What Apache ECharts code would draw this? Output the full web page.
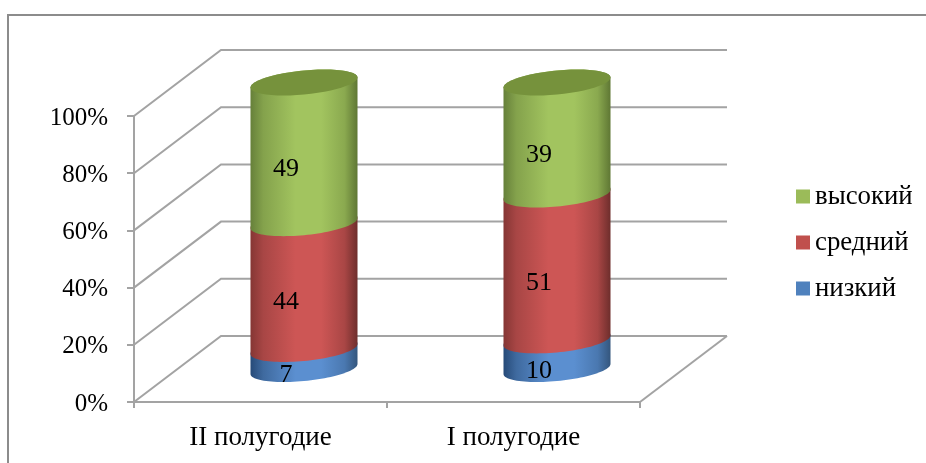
<!DOCTYPE html>
<html><head><meta charset="utf-8">
<style>html,body{margin:0;padding:0;background:#fff}#c{width:926px;height:463px}</style>
<script src="https://cdn.jsdelivr.net/npm/echarts@6/dist/echarts.min.js"></script>
</head><body><div id="c"></div>
<script>
const categories = ['II полугодие', 'I полугодие'];
const valueTicks = [0, 20, 40, 60, 80, 100];
const nizkiy = [7, 10];
const sredniy = [44, 51];
const vysokiy = [49, 39];
const FONT = '"Liberation Serif", serif';
const DEPTH_X = 87, DEPTH_Y = -66, WALL = '#a3a3a3';

function ellipsePts(cx, cy, a, from, to) {
  const b = 12, k = 5, pts = [];
  for (let i = 0; i <= 48; i++) {
    const t = from + (to - from) * i / 48;
    pts.push([cx + a * Math.cos(t), cy + b * Math.sin(t) - k * Math.cos(t)]);
  }
  return pts;
}
function shade(edgeL, midL, base, midR, edgeR) {
  return { type: 'linear', x: 0, y: 0, x2: 1, y2: 0, colorStops: [
    { offset: 0, color: edgeL }, { offset: 0.12, color: midL }, { offset: 0.42, color: base },
    { offset: 0.66, color: base }, { offset: 0.88, color: midR }, { offset: 1, color: edgeR } ] };
}
function cylinderSeries(name, values, below, legendColor, fill, cap) {
  return {
    name, type: 'custom', coordinateSystem: 'cartesian2d', clip: false,
    itemStyle: { color: legendColor },
    encode: { x: 0, y: 2 },
    data: values.map((v, i) => [i, below[i], below[i] + v, v]),
    renderItem(params, api) {
      const i = api.value(0), lo = api.value(1), hi = api.value(2);
      const a = api.size([1, 0])[0] * 0.2115;
      const pLo = api.coord([i, lo]), pHi = api.coord([i, hi]);
      const cx = pLo[0] + DEPTH_X / 2;
      const yLo = pLo[1] + DEPTH_Y / 2, yHi = pHi[1] + DEPTH_Y / 2 - 0.5;
      const outline = ellipsePts(cx, yLo, a, 0, Math.PI)
        .concat(ellipsePts(cx, yHi, a, Math.PI, 2 * Math.PI));
      const kids = [{ type: 'polygon', shape: { points: outline }, style: { fill } }];
      if (cap) kids.push({ type: 'polygon', shape: { points: ellipsePts(cx, yHi, a, 0, 2 * Math.PI) }, style: { fill: cap } });
      const mid = api.coord([i, (lo + hi) / 2]);
      kids.push({ type: 'text', z2: 20, style: { text: String(api.value(3)), x: mid[0] + 25.5, y: mid[1] - 17,
        align: 'center', verticalAlign: 'middle', font: '26px ' + FONT, fill: '#000' } });
      return { type: 'group', children: kids };
    }
  };
}
const zeros = categories.map(() => 0);
const base2 = nizkiy.slice();
const base3 = nizkiy.map((v, i) => v + sredniy[i]);

const chart = echarts.init(document.getElementById('c'), null, { renderer: 'canvas' });
chart.setOption({
  animation: false,
  backgroundColor: '#fff',
  graphic: [{ type: 'rect', shape: { x: 8, y: 15, width: 1200, height: 800 }, silent: true, z: -1,
    style: { fill: 'none', stroke: '#8c8c8c', lineWidth: 2 } }],
  grid: { left: 134, top: 116, width: 506, height: 286 },
  legend: { left: 791, top: 178, orient: 'vertical', itemWidth: 14, itemHeight: 14, itemGap: 19,
    icon: 'rect', selectedMode: false, data: ['высокий', 'средний', 'низкий'],
    textStyle: { fontFamily: FONT, fontSize: 26.8, color: '#000' } },
  xAxis: { type: 'category', data: categories,
    axisLine: { lineStyle: { color: WALL, width: 2 } },
    axisTick: { show: true, length: 6, lineStyle: { color: WALL, width: 2 } },
    axisLabel: { margin: 22, fontFamily: FONT, fontSize: 27, color: '#000' } },
  yAxis: { type: 'value', min: 0, max: 100, interval: 20,
    axisLine: { show: true, lineStyle: { color: WALL, width: 2 } },
    axisTick: { show: true, length: 7, lineStyle: { color: WALL, width: 2 } },
    splitLine: { show: false },
    axisLabel: { margin: 26, formatter: '{v|{value}%}', rich: { v: { fontFamily: FONT, fontSize: 25, color: '#000', padding: [4, 0, 0, 0] } } } },
  series: [
    { type: 'custom', coordinateSystem: 'cartesian2d', clip: false, silent: true,
      encode: { x: 0, y: 1 }, data: valueTicks.map(v => [0, v]),
      renderItem(params, api) {
        const cs = params.coordSys, y = api.coord([0, api.value(1)])[1];
        const bx = cs.x + DEPTH_X, by = y + DEPTH_Y;
        const style = { stroke: WALL, lineWidth: 2, fill: 'none' };
        const kids = [{ type: 'polyline', shape: { points: [[cs.x, y], [bx, by], [cs.x + cs.width + DEPTH_X, by]] }, style }];
        if (api.value(1) === valueTicks[0]) kids.push({ type: 'line',
          shape: { x1: cs.x + cs.width, y1: y, x2: cs.x + cs.width + DEPTH_X, y2: by }, style });
        return { type: 'group', children: kids };
      } },
    cylinderSeries('низкий', nizkiy, zeros, '#4f81bd', shade('#264a78', '#3f6a9f', '#5b8fd0', '#4a78b0', '#34567d')),
    cylinderSeries('средний', sredniy, base2, '#c0504d', shade('#853634', '#a84645', '#cd5655', '#a94645', '#6e2e2c')),
    cylinderSeries('высокий', vysokiy, base3, '#9bbb59', shade('#66803a', '#84a24c', '#a2c45f', '#8aa94f', '#5f7734'), '#76923c')
  ]
});
</script></body></html>
